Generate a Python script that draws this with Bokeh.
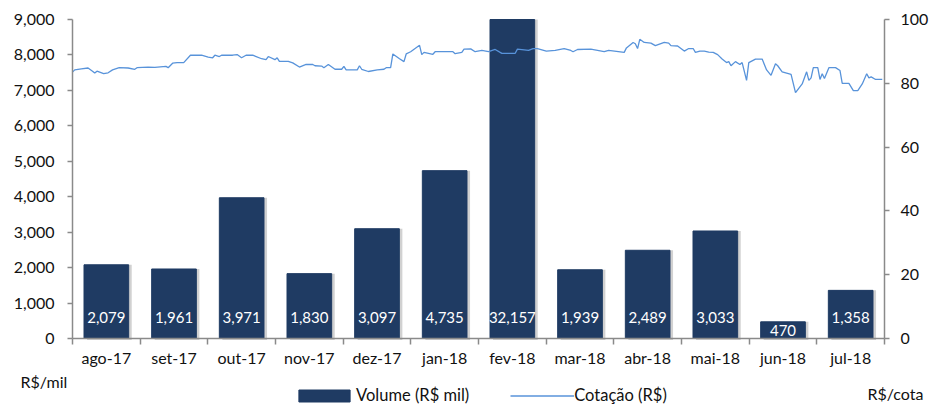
from bokeh.plotting import figure
from bokeh.models import (ColumnDataSource, Range1d, LinearAxis, FixedTicker,
                          NumeralTickFormatter, Legend, LegendItem, Label)
from bokeh.core.properties import value
from bokeh.embed import file_html
from bokeh.resources import INLINE
import pandas as pd

FONT = "Lato"

months = ["ago-17", "set-17", "out-17", "nov-17", "dez-17", "jan-18",
          "fev-18", "mar-18", "abr-18", "mai-18", "jun-18", "jul-18"]
volume = [2079, 1961, 3971, 1830, 3097, 4735, 32157, 1939, 2489, 3033, 470, 1358]
vol_max = 9000
cot_max = 100

quote_dates = [
    "2017-08-01", "2017-08-02", "2017-08-05", "2017-08-08", "2017-08-10", "2017-08-11",
    "2017-08-12", "2017-08-15", "2017-08-17", "2017-08-19", "2017-08-22", "2017-08-26",
    "2017-08-29", "2017-08-30", "2017-09-04", "2017-09-07", "2017-09-12", "2017-09-13",
    "2017-09-15", "2017-09-17", "2017-09-20", "2017-09-23", "2017-09-28", "2017-10-01",
    "2017-10-03", "2017-10-04", "2017-10-06", "2017-10-07", "2017-10-12", "2017-10-14",
    "2017-10-16", "2017-10-18", "2017-10-21", "2017-10-25", "2017-10-27", "2017-10-28",
    "2017-10-31", "2017-11-01", "2017-11-02", "2017-11-06", "2017-11-08", "2017-11-11",
    "2017-11-14", "2017-11-17", "2017-11-18", "2017-11-21", "2017-11-22", "2017-11-24",
    "2017-11-27", "2017-11-30", "2017-12-01", "2017-12-02", "2017-12-07", "2017-12-08",
    "2017-12-09", "2017-12-12", "2017-12-16", "2017-12-19", "2017-12-20", "2017-12-22",
    "2017-12-23", "2017-12-26", "2017-12-28", "2017-12-29", "2017-12-31", "2018-01-04",
    "2018-01-05", "2018-01-06", "2018-01-10", "2018-01-11", "2018-01-19", "2018-01-20",
    "2018-01-23", "2018-01-24", "2018-01-27", "2018-01-29", "2018-02-01", "2018-02-04",
    "2018-02-07", "2018-02-10", "2018-02-16", "2018-02-17", "2018-02-22", "2018-02-24",
    "2018-02-26", "2018-02-28", "2018-03-02", "2018-03-06", "2018-03-10", "2018-03-13",
    "2018-03-14", "2018-03-16", "2018-03-22", "2018-03-25", "2018-03-28", "2018-03-30",
    "2018-04-06", "2018-04-07", "2018-04-10", "2018-04-11", "2018-04-12", "2018-04-13",
    "2018-04-15", "2018-04-18", "2018-04-20", "2018-04-24", "2018-04-26", "2018-04-27",
    "2018-04-30", "2018-05-03", "2018-05-05", "2018-05-07", "2018-05-08", "2018-05-10",
    "2018-05-12", "2018-05-14", "2018-05-16", "2018-05-18", "2018-05-20", "2018-05-22",
    "2018-05-23", "2018-05-24", "2018-05-26", "2018-05-28", "2018-05-29", "2018-05-31",
    "2018-06-01", "2018-06-04", "2018-06-07", "2018-06-09", "2018-06-11", "2018-06-13",
    "2018-06-14", "2018-06-16", "2018-06-20", "2018-06-22", "2018-06-25", "2018-06-27",
    "2018-06-28", "2018-06-29", "2018-06-30", "2018-07-02", "2018-07-03", "2018-07-04",
    "2018-07-05", "2018-07-07", "2018-07-10", "2018-07-12", "2018-07-13", "2018-07-16",
    "2018-07-18", "2018-07-20", "2018-07-22", "2018-07-24", "2018-07-25", "2018-07-26",
    "2018-07-28", "2018-07-31",
]
quote = [
    83.5, 84.2, 84.5, 84.8, 83.8, 83.2, 83.8, 83.0, 83.3, 84.2, 84.9, 84.8,
    84.4, 84.9, 85.1, 85.0, 85.3, 84.9, 86.3, 86.5, 86.5, 88.8, 88.8, 88.2,
    88.0, 88.8, 88.4, 88.8, 88.8, 89.0, 88.0, 88.8, 88.8, 87.7, 87.4, 88.4,
    87.4, 88.0, 86.9, 86.9, 86.4, 85.1, 85.9, 85.9, 85.5, 85.4, 84.9, 85.9,
    84.4, 84.4, 85.3, 84.2, 84.2, 85.5, 84.4, 83.7, 84.2, 84.4, 84.9, 84.9,
    89.2, 87.7, 86.8, 89.2, 89.9, 91.9, 89.0, 89.7, 89.1, 89.9, 89.9, 89.3,
    89.7, 90.7, 90.8, 89.9, 90.3, 89.9, 90.6, 89.4, 89.4, 90.7, 90.3, 90.9,
    90.9, 90.5, 90.1, 90.3, 90.9, 90.3, 89.9, 90.6, 90.7, 90.3, 89.9, 90.3,
    89.7, 91.1, 92.8, 92.4, 90.9, 93.8, 92.8, 92.6, 91.8, 92.8, 92.6, 91.8,
    91.7, 90.1, 90.9, 90.9, 89.7, 90.1, 90.1, 89.8, 89.7, 89.0, 87.6, 86.5,
    86.8, 85.5, 86.8, 85.9, 86.5, 80.9, 86.5, 87.6, 87.6, 84.2, 82.5, 86.1,
    85.5, 83.6, 82.8, 77.1, 79.8, 83.6, 80.9, 81.7, 84.9, 84.9, 81.2, 83.0,
    81.5, 84.9, 84.9, 84.0, 80.0, 80.0, 77.7, 77.7, 79.8, 83.0, 81.7, 82.0,
    81.2, 81.2,
]

BAR = "#1f3b63"
LINE = "#5893da"
AXIS = "#8a8a8a"
TXT = "#111111"

# canvas geometry: plot box 812x319 px at (72, 19) inside a 930x405 canvas
W, H = 930, 405
BOX_L, BOX_R, BOX_T, BOX_B = 72, 884, 19, 338
kx = 12 / (BOX_R - BOX_L)
ky = vol_max / (BOX_B - BOX_T)
kc = cot_max / (BOX_B - BOX_T)

start = pd.Timestamp("2017-08-01")
qx = [(pd.Timestamp(d) - start).days / 365 * 12 for d in quote_dates]

# bars are cut at the top of the value axis, like the original chart
bar_src = ColumnDataSource(dict(
    x=[i + 0.5 for i in range(len(months))],
    sx=[i + 0.545 for i in range(len(months))],
    top=[min(v, vol_max) for v in volume],
    sy=[-40] * len(months),
    label=[f"{v:,}" for v in volume],
    label_y=[min(v, 1200) / 2 for v in volume],
))
line_src = ColumnDataSource(dict(x=qx, y=quote))

p = figure(frame_width=W, frame_height=H,
           x_range=Range1d(-BOX_L * kx, 12 + (W - BOX_R) * kx),
           y_range=Range1d(-(H - BOX_B) * ky, vol_max + BOX_T * ky),
           output_backend="svg", toolbar_location=None,
           min_border_left=0, min_border_right=0, min_border_top=0, min_border_bottom=0)
p.outline_line_color = None
p.xgrid.visible = False
p.ygrid.visible = False
p.extra_y_ranges = {"cot": Range1d(-(H - BOX_B) * kc, cot_max + BOX_T * kc)}

# bar shadow
p.vbar(x="sx", top="top", bottom="sy", width=0.66, source=bar_src,
       fill_color="#9a9a9a", fill_alpha=0.45, line_color=None)
bars = p.vbar(x="x", top="top", width=0.66, source=bar_src,
              fill_color=BAR, line_color=BAR)
p.text(x="x", y="label_y", text="label", source=bar_src, text_color="white",
       text_font=value(FONT), text_font_size="15px", text_align="center",
       text_baseline="middle")
cot = p.line(x="x", y="y", source=line_src, y_range_name="cot",
             line_color=LINE, line_width=1.3)

# axes, pinned to the plot box
xa = p.xaxis[0]
xa.fixed_location = 0
xa.bounds = (0, 12)
xa.ticker = FixedTicker(ticks=[i + 0.5 for i in range(12)], minor_ticks=list(range(13)))
xa.major_label_overrides = {i + 0.5: m for i, m in enumerate(months)}
xa.major_tick_out = 0
xa.major_tick_in = 0
xa.minor_tick_out = 6
xa.minor_tick_in = 0
xa.minor_tick_line_color = AXIS
xa.minor_tick_line_width = 1.5
xa.major_label_standoff = 3

ya = p.yaxis[0]
ya.fixed_location = 0
ya.bounds = (0, vol_max)
ya.ticker = FixedTicker(ticks=list(range(0, vol_max + 1, 1000)))
ya.formatter = NumeralTickFormatter(format="0,0")
ya.minor_tick_line_color = None
ya.major_tick_out = 5
ya.major_tick_in = 0
ya.major_label_standoff = 13

ra = LinearAxis(y_range_name="cot", fixed_location=12, bounds=(0, cot_max),
                ticker=FixedTicker(ticks=list(range(0, cot_max + 1, 20))))
ra.minor_tick_line_color = None
ra.major_tick_out = 5
ra.major_tick_in = 0
ra.major_label_standoff = 11
p.add_layout(ra, "right")

for ax in (xa, ya, ra):
    ax.axis_line_color = AXIS
    ax.axis_line_width = 1.5
    ax.major_tick_line_color = AXIS
    ax.major_tick_line_width = 1.5
    ax.major_label_text_font = FONT
    ax.major_label_text_font_size = "16px"
    ax.major_label_text_color = TXT

p.add_layout(Label(x=(20 - BOX_L) * kx, y=(BOX_B - 381) * ky, text="R$/mil",
                   text_font=FONT, text_font_size="16px", text_color=TXT,
                   text_baseline="middle"))
p.add_layout(Label(x=(867 - BOX_L) * kx, y=(BOX_B - 393) * ky, text="R$/cota",
                   text_font=FONT, text_font_size="16px", text_color=TXT,
                   text_baseline="middle"))

legend = Legend(items=[LegendItem(label="Volume (R$ mil)", renderers=[bars]),
                       LegendItem(label="Cotação (R$)", renderers=[cot])],
                location=(292, 0), orientation="horizontal",
                glyph_width=64, glyph_height=15, label_standoff=0, spacing=41,
                padding=0, margin=0, border_line_color=None, background_fill_alpha=0,
                label_text_font=FONT, label_text_font_size="16.5px", label_text_color=TXT)
p.add_layout(legend, "center")

open("out.html", "w").write(file_html(p, INLINE))
